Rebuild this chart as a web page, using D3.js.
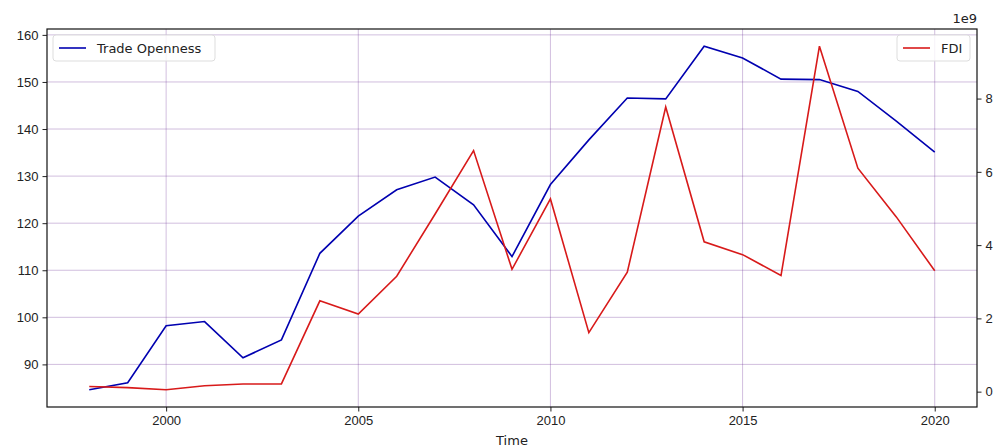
<!DOCTYPE html>
<html>
<head>
<meta charset="utf-8">
<script src="https://cdn.jsdelivr.net/npm/d3@7"></script>
<style>
  body { margin: 0; background: #fff; }
  svg { font-family: "DejaVu Sans", sans-serif; }
</style>
</head>
<body>
<svg id="chart"></svg>
<script>
// Data
const years = [1998, 1999, 2000, 2001, 2002, 2003, 2004, 2005, 2006, 2007, 2008,
  2009, 2010, 2011, 2012, 2013, 2014, 2015, 2016, 2017, 2018, 2019, 2020];
const tradeOpenness = [84.6, 86.1, 98.2, 99.1, 91.4, 95.2, 113.6, 121.5, 127.1, 129.8, 123.9,
  112.9, 128.2, 137.7, 146.6, 146.4, 157.6, 155.1, 150.6, 150.5, 148.0, 141.7, 135.1];
const fdi = [0.14, 0.11, 0.05, 0.16, 0.21, 0.21, 2.48, 2.12, 3.15, 4.85, 6.58,
  3.34, 5.26, 1.61, 3.26, 7.77, 4.09, 3.74, 3.17, 9.43, 6.10, 4.77, 3.30]; // x 1e9
const leftTicks = [90, 100, 110, 120, 130, 140, 150, 160];
const rightTicks = [0, 2, 4, 6, 8];
const xTicks = [2000, 2005, 2010, 2015, 2020];

const width = 997;
const height = 447;
const margin = { top: 29, right: 20, bottom: 40, left: 47 };

const svg = d3.select("#chart")
  .attr("width", width)
  .attr("height", height);

// matplotlib style 5% margins
function padded(ext) {
  const d = (ext[1] - ext[0]) * 0.05;
  return [ext[0] - d, ext[1] + d];
}

const x = d3.scaleLinear()
  .domain(padded(d3.extent(years)))
  .range([margin.left, width - margin.right]);

const yLeft = d3.scaleLinear()
  .domain(padded(d3.extent(tradeOpenness)))
  .range([height - margin.bottom, margin.top]);

const yRight = d3.scaleLinear()
  .domain(padded(d3.extent(fdi)))
  .range([height - margin.bottom, margin.top]);

const gridColor = "rgba(110, 50, 150, 0.4)";

// Grid lines
svg.append("g")
  .selectAll("line")
  .data(xTicks)
  .enter()
  .append("line")
  .attr("x1", d => x(d)).attr("x2", d => x(d))
  .attr("y1", margin.top).attr("y2", height - margin.bottom)
  .attr("stroke", gridColor).attr("stroke-width", 0.8);

svg.append("g")
  .selectAll("line")
  .data(leftTicks)
  .enter()
  .append("line")
  .attr("x1", margin.left).attr("x2", width - margin.right)
  .attr("y1", d => yLeft(d)).attr("y2", d => yLeft(d))
  .attr("stroke", gridColor).attr("stroke-width", 0.8);

// Lines
const lineLeft = d3.line()
  .x((d, i) => x(years[i]))
  .y(d => yLeft(d));

const lineRight = d3.line()
  .x((d, i) => x(years[i]))
  .y(d => yRight(d));

svg.append("path")
  .datum(tradeOpenness)
  .attr("fill", "none")
  .attr("stroke", "#0000b0")
  .attr("stroke-width", 1.6)
  .attr("d", lineLeft);

svg.append("path")
  .datum(fdi)
  .attr("fill", "none")
  .attr("stroke", "#d81a1a")
  .attr("stroke-width", 1.6)
  .attr("d", lineRight);

// Axes
const fontSize = "13px";

const xAxis = svg.append("g")
  .attr("transform", `translate(0,${height - margin.bottom})`)
  .call(d3.axisBottom(x).tickValues(xTicks).tickFormat(d3.format("d")).tickSizeOuter(0).tickSize(4.5).tickPadding(4));

const leftAxis = svg.append("g")
  .attr("transform", `translate(${margin.left},0)`)
  .call(d3.axisLeft(yLeft).tickValues(leftTicks).tickSizeOuter(0).tickSize(4.5).tickPadding(4));

const rightAxis = svg.append("g")
  .attr("transform", `translate(${width - margin.right},0)`)
  .call(d3.axisRight(yRight).tickValues(rightTicks).tickSizeOuter(0).tickSize(4.5).tickPadding(4));

[xAxis, leftAxis, rightAxis].forEach(g => {
  g.select(".domain").remove();
  g.selectAll("text").attr("font-size", fontSize).attr("fill", "#222");
  g.selectAll("line").attr("stroke", "#222");
});

// Frame
svg.append("rect")
  .attr("x", margin.left).attr("y", margin.top)
  .attr("width", width - margin.left - margin.right)
  .attr("height", height - margin.top - margin.bottom)
  .attr("fill", "none").attr("stroke", "#111").attr("stroke-width", 1.2);

// Offset text and axis label
svg.append("text")
  .attr("x", width - margin.right)
  .attr("y", margin.top - 6)
  .attr("text-anchor", "end")
  .attr("font-size", fontSize)
  .attr("fill", "#222")
  .text("1e9");

svg.append("text")
  .attr("x", (margin.left + width - margin.right) / 2)
  .attr("y", height - 2)
  .attr("text-anchor", "middle")
  .attr("font-size", fontSize)
  .attr("fill", "#222")
  .text("Time");

// Legends
function legend(lx, ly, label, color, w) {
  const g = svg.append("g").attr("transform", `translate(${lx},${ly})`);
  g.append("rect")
    .attr("width", w).attr("height", 26).attr("rx", 3)
    .attr("fill", "rgba(255,255,255,0.8)")
    .attr("stroke", "#ddd").attr("stroke-width", 1);
  g.append("line")
    .attr("x1", 6).attr("x2", 33).attr("y1", 13).attr("y2", 13)
    .attr("stroke", color).attr("stroke-width", 1.6);
  g.append("text")
    .attr("x", 44).attr("y", 17.5)
    .attr("font-size", fontSize).attr("fill", "#222")
    .text(label);
}

legend(53, 35, "Trade Openness", "#0000b0", 162);
legend(897, 35, "FDI", "#d81a1a", 73);
</script>
</body>
</html>
